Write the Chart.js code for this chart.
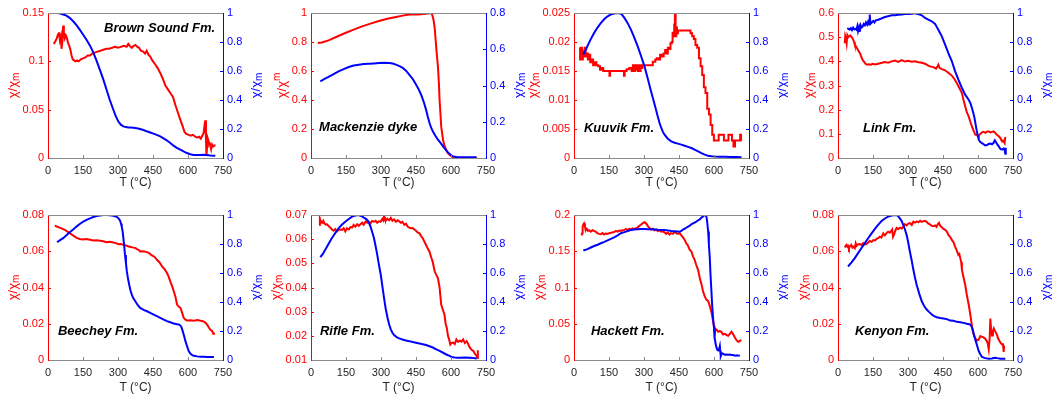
<!DOCTYPE html>
<html>
<head>
<meta charset="utf-8">
<title>Normalised susceptibility versus temperature</title>
<script src="https://cdn.jsdelivr.net/npm/chart.js@4.4.1/dist/chart.umd.min.js"></script>
<style>
  html, body { margin: 0; padding: 0; background: #fff; overflow: hidden; }
  #wrap { position: relative; width: 1052px; height: 396px; }
  #wrap canvas { position: absolute; }
</style>
</head>
<body>
<div id="wrap"></div>
<script>
// ---------- tick labels ----------
const tempTicks = [0, 150, 300, 450, 600, 750];
const unitTicks = [0, 0.2, 0.4, 0.6, 0.8, 1];
const mackRightTicks = [0, 0.2, 0.4, 0.6, 0.8];
const brownLeftTicks = [0, 0.05, 0.1, 0.15];
const mackLeftTicks = [0, 0.2, 0.4, 0.6, 0.8, 1];
const kuuLeftTicks = [0, 0.005, 0.01, 0.015, 0.02, 0.025];
const linkLeftTicks = [0, 0.1, 0.2, 0.3, 0.4, 0.5, 0.6];
const beecheyLeftTicks = [0, 0.02, 0.04, 0.06, 0.08];
const rifleLeftTicks = [0.01, 0.02, 0.03, 0.04, 0.05, 0.06, 0.07];
const hackettLeftTicks = [0, 0.05, 0.1, 0.15, 0.2];
const kenyonLeftTicks = [0, 0.02, 0.04, 0.06, 0.08];

// ---------- Brown Sound Fm. ----------
const brownRedT = [25,32,38,43,47,51,55,58,62,65,68,72,76,80,86,91,96,101,106,112,118,125,132,140,150,160,170,180,190,200,212,225,237,250,262,275,287,300,312,325,337,344,350,359,367,375,383,390,398,408,416,423,430,438,447,459,470,481,492,503,514,525,536,547,558,568,577,585,593,603,612,621,631,640,648,655,661,667,671,674,677,679,682,685,690,694,699,703,708,713,718];
const brownRed = [0.118,0.121,0.124,0.128,0.130,0.122,0.126,0.113,0.121,0.137,0.129,0.124,0.127,0.125,0.119,0.116,0.112,0.106,0.102,0.101,0.100,0.101,0.100,0.102,0.103,0.104,0.106,0.106,0.108,0.109,0.110,0.111,0.112,0.113,0.113,0.114,0.115,0.114,0.115,0.116,0.115,0.118,0.116,0.114,0.116,0.117,0.115,0.114,0.111,0.110,0.108,0.111,0.107,0.105,0.101,0.097,0.093,0.088,0.082,0.075,0.071,0.067,0.063,0.054,0.046,0.039,0.033,0.027,0.025,0.024,0.023,0.024,0.022,0.021,0.022,0.020,0.023,0.026,0.034,0.039,0.020,0.002,0.012,0.020,0.016,0.014,0.009,0.014,0.012,0.013,0.013];
const brownBlueT = [36,50,65,79,94,108,122,136,150,165,180,194,208,222,237,251,265,280,290,301,312,323,334,344,355,366,380,395,409,423,438,452,466,481,495,509,524,538,552,567,581,595,610,624,638,653,667,681,696,710,717];
const brownBlue = [1.0,0.998,0.99,0.982,0.965,0.943,0.916,0.885,0.852,0.816,0.775,0.729,0.672,0.609,0.542,0.471,0.4,0.333,0.29,0.253,0.23,0.218,0.213,0.211,0.21,0.209,0.205,0.2,0.193,0.184,0.176,0.168,0.159,0.149,0.136,0.122,0.104,0.085,0.07,0.057,0.045,0.034,0.026,0.021,0.02,0.021,0.022,0.021,0.018,0.016,0.015];

// ---------- Mackenzie dyke ----------
const mackRedT = [29,46,75,110,147,183,219,255,291,327,364,393,421,440,460,479,495,508,515,519,525,530,534,539,544,548,551,555,558,562,566,571,576,581,587,595,602,612,623,640,660,690,710];
const mackRed = [0.793,0.797,0.811,0.836,0.862,0.885,0.908,0.927,0.945,0.96,0.972,0.982,0.99,0.992,0.99,0.993,0.995,1.0,0.999,0.99,0.954,0.9,0.816,0.72,0.632,0.52,0.402,0.3,0.218,0.17,0.126,0.09,0.069,0.05,0.034,0.02,0.012,0.006,0.003,0.001,0,0,0];
const mackBlueT = [40,58,75,97,118,140,162,183,205,226,248,270,291,313,335,350,364,379,393,407,421,436,450,461,472,483,493,500,508,515,522,533,544,555,566,576,587,598,609,623,638,660,690,710];
const mackBlue = [0.423,0.436,0.447,0.463,0.478,0.49,0.502,0.51,0.515,0.518,0.52,0.522,0.524,0.525,0.524,0.521,0.515,0.507,0.497,0.482,0.46,0.436,0.405,0.38,0.349,0.31,0.267,0.23,0.193,0.167,0.147,0.123,0.101,0.083,0.064,0.047,0.031,0.018,0.009,0.005,0.004,0.004,0.004,0.004];

// ---------- Kuuvik Fm. ----------
const kuuRedT = [24,28,32,36,40,44,48,52,57,62,67,72,78,86,92,100,108,115,122,129,137,145,151,153,156,165,175,187,200,212,216,218,221,230,244,250,255,259,263,267,271,275,280,284,287,291,295,310,330,345,352,358,366,372,380,388,393,399,405,410,417,421,424,428,431,434,437,440,443,448,455,470,485,496,503,510,517,524,532,539,546,553,560,567,575,582,589,596,603,618,622,640,645,660,664,675,679,688,692,710,714,718];
const kuuRed = [0.019,0.017,0.019,0.017,0.0185,0.0175,0.019,0.0175,0.018,0.017,0.0178,0.0165,0.017,0.016,0.0165,0.016,0.0158,0.0152,0.0155,0.015,0.015,0.015,0.015,0.0142,0.015,0.015,0.015,0.015,0.015,0.015,0.0142,0.015,0.015,0.0153,0.0155,0.015,0.016,0.015,0.016,0.0152,0.016,0.015,0.016,0.015,0.016,0.0155,0.016,0.016,0.016,0.0166,0.017,0.0172,0.017,0.0178,0.0175,0.018,0.0186,0.018,0.019,0.0188,0.0198,0.02,0.0216,0.021,0.023,0.025,0.021,0.0225,0.0215,0.022,0.022,0.022,0.022,0.022,0.0215,0.021,0.0205,0.0195,0.019,0.0172,0.0158,0.0143,0.0122,0.0112,0.0085,0.0075,0.0057,0.004,0.003,0.003,0.004,0.004,0.003,0.003,0.004,0.004,0.003,0.002,0.003,0.003,0.004,0.003];
const kuuBlueT = [40,50,60,72,86,100,115,130,144,158,172,186,194,205,216,230,244,258,273,287,302,316,330,345,359,366,374,381,388,402,417,431,445,460,474,489,503,517,532,546,560,575,589,604,625,647,670,695,718];
const kuuBlue = [0.713,0.745,0.78,0.82,0.862,0.898,0.931,0.958,0.977,0.99,0.997,1.0,0.999,0.99,0.966,0.93,0.885,0.832,0.77,0.705,0.632,0.548,0.46,0.372,0.287,0.245,0.207,0.18,0.161,0.133,0.115,0.105,0.099,0.092,0.085,0.077,0.069,0.058,0.046,0.034,0.023,0.015,0.0115,0.01,0.009,0.008,0.007,0.007,0.006];

// ---------- Link Fm. ----------
const linkRedT = [29,31,34,37,40,44,48,52,57,61,65,69,72,78,84,90,95,100,106,112,118,125,132,140,150,160,172,185,201,215,230,244,258,273,287,301,315,330,345,359,373,387,398,409,420,426,430,436,445,459,474,488,498,509,520,531,538,545,552,560,567,574,581,588,595,603,610,617,624,632,639,646,653,660,667,674,681,689,696,703,708,714,717];
const linkRed = [0.475,0.505,0.495,0.475,0.508,0.5,0.505,0.507,0.502,0.497,0.49,0.48,0.469,0.46,0.45,0.44,0.432,0.418,0.405,0.398,0.39,0.386,0.388,0.386,0.39,0.387,0.39,0.393,0.397,0.394,0.4,0.403,0.398,0.405,0.399,0.402,0.398,0.4,0.396,0.394,0.39,0.382,0.378,0.376,0.37,0.378,0.386,0.372,0.368,0.363,0.352,0.341,0.328,0.31,0.29,0.269,0.24,0.214,0.19,0.172,0.15,0.131,0.113,0.097,0.094,0.092,0.1,0.106,0.108,0.104,0.11,0.11,0.106,0.108,0.11,0.104,0.096,0.09,0.082,0.069,0.072,0.062,0.087];
const linkBlueT = [40,45,50,55,60,65,70,75,79,83,86,90,93,97,101,105,110,115,120,125,129,133,136,139,143,147,151,156,162,172,186,201,215,230,244,258,273,287,301,316,323,330,337,344,359,373,387,402,416,430,445,459,473,488,502,516,531,545,560,567,574,580,585,590,595,600,603,610,617,624,631,639,646,653,660,667,672,677,682,689,696,703,710,714,717,719];
const linkBlue = [0.897,0.89,0.885,0.895,0.882,0.9,0.888,0.89,0.885,0.91,0.875,0.9,0.87,0.915,0.9,0.905,0.925,0.915,0.935,0.92,0.94,0.92,0.99,0.925,0.93,0.94,0.945,0.935,0.95,0.954,0.962,0.972,0.978,0.984,0.985,0.988,0.99,0.993,0.993,0.995,0.997,1.0,0.995,0.993,0.984,0.966,0.955,0.943,0.925,0.885,0.839,0.782,0.724,0.667,0.598,0.54,0.483,0.437,0.402,0.38,0.345,0.31,0.276,0.23,0.184,0.15,0.126,0.11,0.103,0.095,0.087,0.09,0.097,0.1,0.095,0.105,0.122,0.11,0.095,0.08,0.062,0.058,0.066,0.055,0.03,0.07];

// ---------- Beechey Fm. ----------
const beecheyRedT = [29,40,50,60,72,82,93,104,115,125,136,150,165,180,194,208,223,237,251,265,280,291,302,312,323,334,345,355,366,374,381,388,395,410,424,435,445,456,467,478,489,500,510,517,524,531,539,546,553,560,568,575,582,589,596,610,625,640,654,661,668,675,682,690,697,704,708,711];
const beecheyRed = [0.0741,0.0735,0.073,0.0725,0.0718,0.071,0.07,0.069,0.0681,0.0672,0.0668,0.0665,0.0667,0.0663,0.0659,0.066,0.0658,0.0655,0.065,0.0652,0.0648,0.0645,0.0639,0.064,0.0635,0.0632,0.0626,0.0624,0.062,0.0618,0.0612,0.0608,0.0599,0.06,0.0595,0.0588,0.0577,0.057,0.0553,0.0538,0.0516,0.05,0.048,0.046,0.0434,0.041,0.0379,0.035,0.0306,0.0295,0.0287,0.026,0.0232,0.0222,0.0218,0.0219,0.0217,0.022,0.0216,0.0215,0.0212,0.0205,0.0195,0.0178,0.0165,0.0159,0.0145,0.0152];
const beecheyBlueT = [39,50,65,79,93,108,122,136,151,165,180,194,208,223,237,251,266,280,295,303,309,313,316,320,323,327,330,334,338,343,348,354,359,366,374,385,395,410,424,438,453,467,481,496,510,524,539,553,560,566,571,575,580,585,589,596,603,610,618,625,639,654,668,682,697,711];
const beecheyBlue = [0.812,0.825,0.84,0.86,0.881,0.9,0.92,0.938,0.954,0.966,0.977,0.986,0.993,0.997,1.0,1.0,0.998,0.995,0.987,0.975,0.96,0.94,0.92,0.885,0.84,0.78,0.725,0.668,0.611,0.56,0.519,0.478,0.451,0.425,0.405,0.378,0.359,0.346,0.336,0.325,0.313,0.302,0.291,0.279,0.268,0.26,0.252,0.247,0.245,0.24,0.23,0.211,0.185,0.155,0.13,0.095,0.062,0.045,0.034,0.029,0.025,0.023,0.022,0.021,0.021,0.021];

// ---------- Rifle Fm. ----------
const rifleRedT = [35,38,42,46,50,53,58,63,68,75,82,90,97,104,111,118,125,133,140,147,154,162,169,176,183,190,198,205,212,219,226,234,241,248,255,262,270,277,284,291,298,306,310,313,317,320,327,335,342,349,356,364,371,378,385,392,400,407,414,421,429,436,443,450,457,465,472,479,486,493,501,508,515,522,525,530,537,544,551,558,566,572,577,582,587,592,597,602,609,616,623,630,638,645,652,659,667,674,681,688,695,701,707,711,713,715];
const rifleRed = [0.0659,0.0684,0.0668,0.0672,0.0668,0.0675,0.0665,0.066,0.0662,0.0655,0.0648,0.064,0.0635,0.0642,0.0632,0.0638,0.064,0.0638,0.0645,0.0632,0.0645,0.064,0.065,0.0648,0.0659,0.0652,0.0662,0.0655,0.0662,0.0668,0.066,0.0673,0.0668,0.0672,0.0665,0.0675,0.0672,0.0676,0.0668,0.0674,0.0672,0.0684,0.0678,0.0693,0.0682,0.0676,0.0685,0.0678,0.0688,0.0676,0.0682,0.0672,0.0678,0.0674,0.0668,0.0672,0.0659,0.0664,0.0652,0.0648,0.0645,0.0646,0.064,0.0635,0.0628,0.0624,0.0612,0.0604,0.059,0.0576,0.056,0.0548,0.0525,0.0505,0.049,0.0467,0.0452,0.0439,0.04,0.0329,0.0305,0.0288,0.025,0.0233,0.02,0.0185,0.0164,0.017,0.0172,0.0166,0.0185,0.0175,0.018,0.0176,0.0185,0.017,0.0178,0.0165,0.0151,0.0142,0.0138,0.0128,0.012,0.0116,0.0108,0.014];
const rifleBlueT = [40,50,61,75,89,104,118,133,147,162,176,190,198,205,212,219,226,234,241,248,255,262,270,277,284,291,299,306,313,320,328,335,342,349,356,367,378,392,407,421,436,450,465,479,493,508,522,537,551,566,580,594,602,616,630,638,660,681,696,710];
const rifleBlue = [0.709,0.73,0.76,0.8,0.84,0.876,0.908,0.934,0.954,0.972,0.989,0.997,1.0,0.998,0.995,0.99,0.982,0.975,0.966,0.948,0.92,0.885,0.84,0.785,0.725,0.658,0.588,0.508,0.428,0.355,0.291,0.245,0.211,0.188,0.172,0.158,0.149,0.141,0.135,0.13,0.124,0.119,0.114,0.109,0.103,0.095,0.086,0.073,0.063,0.05,0.038,0.028,0.021,0.018,0.016,0.016,0.017,0.016,0.013,0.011];

// ---------- Hackett Fm. ----------
const hackettRedT = [32,35,37,40,43,47,50,55,60,65,72,79,86,93,100,108,115,122,129,136,144,151,158,165,172,180,187,194,201,208,216,223,230,237,244,251,258,266,273,280,287,295,302,309,316,323,330,338,345,352,359,366,373,380,388,395,402,409,416,424,431,438,445,453,460,467,474,481,488,496,503,510,517,524,532,539,546,553,560,567,575,580,586,591,596,600,603,607,611,618,625,632,639,646,654,661,668,675,682,690,697,704,710,716];
const hackettRed = [0.1716,0.175,0.184,0.187,0.1885,0.184,0.179,0.181,0.178,0.179,0.177,0.179,0.178,0.177,0.175,0.174,0.1734,0.175,0.173,0.1745,0.174,0.175,0.1755,0.176,0.1765,0.178,0.177,0.1785,0.178,0.179,0.1795,0.1808,0.179,0.181,0.18,0.1815,0.1805,0.1817,0.183,0.185,0.1865,0.189,0.19,0.1885,0.185,0.182,0.18,0.181,0.179,0.18,0.178,0.179,0.177,0.1775,0.176,0.174,0.176,0.173,0.175,0.174,0.177,0.175,0.174,0.175,0.172,0.169,0.166,0.161,0.158,0.152,0.15,0.143,0.138,0.131,0.124,0.113,0.105,0.0947,0.088,0.0833,0.0815,0.0764,0.07,0.0627,0.0535,0.0467,0.0375,0.042,0.0421,0.039,0.04,0.0385,0.0352,0.036,0.0345,0.0335,0.036,0.039,0.0355,0.0307,0.027,0.0252,0.026,0.028];
const hackettBlueT = [40,58,72,86,101,115,130,144,158,172,187,201,216,230,244,258,273,287,302,316,330,345,359,374,388,402,417,431,445,453,460,467,474,481,489,496,503,510,517,524,531,539,546,553,560,564,568,571,575,578,582,585,589,592,596,600,603,607,611,614,618,621,625,627,629,632,636,639,646,654,661,668,675,682,690,697,704,711];
const hackettBlue = [0.755,0.765,0.776,0.786,0.795,0.805,0.815,0.825,0.835,0.846,0.86,0.874,0.882,0.89,0.897,0.9,0.902,0.904,0.903,0.902,0.902,0.9,0.898,0.897,0.896,0.894,0.89,0.888,0.886,0.884,0.89,0.9,0.905,0.912,0.92,0.926,0.936,0.942,0.948,0.954,0.962,0.97,0.982,0.99,1.0,0.998,0.985,0.95,0.886,0.8,0.703,0.59,0.474,0.38,0.291,0.22,0.153,0.11,0.085,0.07,0.066,0.07,0.096,0.06,0.027,0.04,0.045,0.043,0.036,0.038,0.036,0.037,0.034,0.034,0.03,0.033,0.03,0.032];

// ---------- Kenyon Fm. ----------
const kenyonRedT = [29,33,36,40,43,47,52,57,62,67,72,76,80,86,93,100,108,115,122,129,136,144,151,158,165,172,179,186,194,201,208,215,222,228,232,236,241,245,251,258,266,273,280,287,294,301,308,316,323,330,338,345,352,359,366,373,380,387,394,402,409,416,422,428,433,438,445,452,459,466,473,480,488,495,502,509,516,520,524,528,531,538,545,552,560,566,571,576,581,588,596,603,610,617,624,631,638,642,646,650,653,656,660,664,668,671,675,681,686,692,697,703,707,710,712];
const kenyonRed = [0.0621,0.063,0.0635,0.0625,0.063,0.0615,0.0628,0.0635,0.062,0.0625,0.0617,0.0644,0.063,0.0638,0.064,0.0635,0.0645,0.0638,0.064,0.0648,0.0657,0.0652,0.0662,0.066,0.0668,0.0672,0.068,0.0675,0.0699,0.0688,0.07,0.0708,0.0702,0.0712,0.072,0.068,0.0695,0.0712,0.0728,0.0722,0.073,0.0725,0.0735,0.0749,0.0742,0.0752,0.0755,0.0745,0.0763,0.0758,0.0765,0.076,0.0768,0.0762,0.0766,0.0768,0.0762,0.0752,0.0748,0.074,0.0738,0.0742,0.0735,0.075,0.0757,0.074,0.0732,0.0723,0.0718,0.071,0.069,0.068,0.0663,0.065,0.0626,0.0605,0.058,0.0585,0.0562,0.054,0.0498,0.0455,0.0416,0.036,0.0306,0.026,0.0214,0.017,0.0141,0.012,0.0108,0.0112,0.0132,0.0128,0.0125,0.0118,0.0104,0.009,0.0059,0.012,0.0229,0.017,0.0135,0.016,0.0174,0.0165,0.0155,0.014,0.012,0.0105,0.0095,0.0086,0.0092,0.0044,0.008];
const kenyonBlueT = [43,58,72,86,100,115,129,144,158,172,187,201,215,230,244,255,265,273,280,287,294,301,308,316,323,330,337,348,359,370,380,391,402,412,423,438,452,466,481,495,509,524,538,552,566,571,576,582,588,596,603,610,617,631,646,660,667,674,682,696,710,717];
const kenyonBlue = [0.645,0.673,0.703,0.737,0.771,0.806,0.84,0.873,0.904,0.932,0.959,0.976,0.989,0.997,1.0,0.997,0.977,0.958,0.931,0.9,0.863,0.81,0.748,0.685,0.622,0.568,0.519,0.458,0.405,0.37,0.348,0.33,0.314,0.303,0.295,0.29,0.286,0.282,0.272,0.27,0.263,0.26,0.256,0.25,0.245,0.235,0.217,0.18,0.142,0.1,0.062,0.04,0.021,0.013,0.009,0.01,0.014,0.016,0.013,0.009,0.009,0.009];

// ---------- styling ----------
const FONT = '"Liberation Sans", Arial, Helvetica, sans-serif';
const RED = '#ff0000';
const BLUE = '#0000ff';
const FRAME = '#8a8a8a';
const INK = '#262626';

const PANEL_W = 262, PANEL_H = 198;
const LEFT_AXIS_W = 48, RIGHT_AXIS_W = 39;
const colLeft = [0, 263, 526, 790];

const panels = [
  { name: 'Brown Sound Fm.', col: 0, row: 0, redT: brownRedT, red: brownRed, blueT: brownBlueT, blue: brownBlue, leftTicks: brownLeftTicks, rightTicks: unitTicks, lx: 0.32, ly: 0.105, sup: false, redStep: false },
  { name: 'Mackenzie dyke', col: 1, row: 0, redT: mackRedT, red: mackRed, blueT: mackBlueT, blue: mackBlue, leftTicks: mackLeftTicks, rightTicks: mackRightTicks, lx: 0.046, ly: 0.79, sup: true, redStep: false },
  { name: 'Kuuvik Fm.', col: 2, row: 0, redT: kuuRedT, red: kuuRed, blueT: kuuBlueT, blue: kuuBlue, leftTicks: kuuLeftTicks, rightTicks: unitTicks, lx: 0.057, ly: 0.795, sup: false, redStep: true },
  { name: 'Link Fm.', col: 3, row: 0, redT: linkRedT, red: linkRed, blueT: linkBlueT, blue: linkBlue, leftTicks: linkLeftTicks, rightTicks: unitTicks, lx: 0.143, ly: 0.795, sup: false, redStep: false },
  { name: 'Beechey Fm.', col: 0, row: 1, redT: beecheyRedT, red: beecheyRed, blueT: beecheyBlueT, blue: beecheyBlue, leftTicks: beecheyLeftTicks, rightTicks: unitTicks, lx: 0.057, ly: 0.80, sup: false, redStep: false },
  { name: 'Rifle Fm.', col: 1, row: 1, redT: rifleRedT, red: rifleRed, blueT: rifleBlueT, blue: rifleBlue, leftTicks: rifleLeftTicks, rightTicks: unitTicks, lx: 0.051, ly: 0.80, sup: false, redStep: false },
  { name: 'Hackett Fm.', col: 2, row: 1, redT: hackettRedT, red: hackettRed, blueT: hackettBlueT, blue: hackettBlue, leftTicks: hackettLeftTicks, rightTicks: unitTicks, lx: 0.097, ly: 0.80, sup: false, redStep: false },
  { name: 'Kenyon Fm.', col: 3, row: 1, redT: kenyonRedT, red: kenyonRed, blueT: kenyonBlueT, blue: kenyonBlue, leftTicks: kenyonLeftTicks, rightTicks: unitTicks, lx: 0.097, ly: 0.80, sup: false, redStep: false }
];

function toPoints(t, v) { return t.map((x, i) => ({ x: x, y: v[i] })); }
function fmt(v) { return String(+Number(v).toFixed(6)); }

// rotated "χ/χm" axis label, with m as subscript (or superscript)
function chiLabel(ctx, x, y, color, sup) {
  ctx.save();
  ctx.translate(x, y);
  ctx.rotate(-Math.PI / 2);
  ctx.fillStyle = color;
  ctx.textBaseline = 'middle';
  ctx.textAlign = 'left';
  ctx.font = '13px ' + FONT;
  const w1 = ctx.measureText('χ/χ').width;
  ctx.font = '10px ' + FONT;
  const w2 = ctx.measureText('m').width;
  const x0 = -(w1 + w2) / 2;
  ctx.font = '13px ' + FONT;
  ctx.fillText('χ/χ', x0, 0);
  ctx.font = '10px ' + FONT;
  ctx.fillText('m', x0 + w1, sup ? -5 : 3);
  ctx.restore();
}

// frame, inward tick marks, axis labels and panel name
const panelDeco = {
  id: 'panelDeco',
  afterDraw(chart, args, o) {
    const { ctx, chartArea: a, scales } = chart;
    const TL = 3;
    ctx.save();
    ctx.lineWidth = 1;

    ctx.strokeStyle = FRAME;
    ctx.beginPath();
    const ty = Math.round(a.top) + 0.5;
    ctx.moveTo(a.left, ty); ctx.lineTo(a.right, ty);
    scales.x.ticks.forEach(t => {
      const px = Math.round(scales.x.getPixelForValue(t.value)) + 0.5;
      if (px <= a.left + 1 || px >= a.right - 1) return;
      ctx.moveTo(px, a.bottom); ctx.lineTo(px, a.bottom - TL);
    });
    ctx.stroke();

    ctx.strokeStyle = RED;
    ctx.beginPath();
    scales.yL.ticks.forEach(t => {
      const py = Math.round(scales.yL.getPixelForValue(t.value)) + 0.5;
      if (py <= a.top + 1 || py >= a.bottom - 1) return;
      ctx.moveTo(a.left, py); ctx.lineTo(a.left + TL, py);
    });
    ctx.stroke();

    ctx.strokeStyle = BLUE;
    ctx.beginPath();
    scales.yR.ticks.forEach(t => {
      const py = Math.round(scales.yR.getPixelForValue(t.value)) + 0.5;
      if (py <= a.top + 1 || py >= a.bottom - 1) return;
      ctx.moveTo(a.right, py); ctx.lineTo(a.right - TL, py);
    });
    ctx.stroke();

    // axis labels placed just outside the tick labels
    ctx.font = '11px ' + FONT;
    let wl = 0, wr = 0;
    scales.yL.ticks.forEach(t => { wl = Math.max(wl, ctx.measureText(String(t.label)).width); });
    scales.yR.ticks.forEach(t => { wr = Math.max(wr, ctx.measureText(String(t.label)).width); });
    const midY = (a.top + a.bottom) / 2;
    chiLabel(ctx, a.left - 4 - wl - 9, midY, RED, o.sup);
    chiLabel(ctx, a.right + 4 + wr + 14, midY, BLUE, false);

    // panel name
    ctx.font = 'italic bold 13px ' + FONT;
    ctx.fillStyle = '#000';
    ctx.textAlign = 'left';
    ctx.textBaseline = 'middle';
    ctx.fillText(o.name, a.left + o.lx * (a.right - a.left), a.top + o.ly * (a.bottom - a.top));
    ctx.restore();
  }
};

const wrap = document.getElementById('wrap');

panels.forEach(p => {
  const cv = document.createElement('canvas');
  cv.width = PANEL_W;
  cv.height = PANEL_H;
  cv.style.width = PANEL_W + 'px';
  cv.style.height = PANEL_H + 'px';
  cv.style.left = colLeft[p.col] + 'px';
  cv.style.top = (p.row * PANEL_H) + 'px';
  wrap.appendChild(cv);

  const padTop = p.row === 0 ? 13 : 17;
  const xAxisH = p.row === 0 ? 40 : 36;
  const titleBottom = p.row === 0 ? 8 : 1;
  const lt = p.leftTicks, rt = p.rightTicks;

  new Chart(cv, {
    type: 'line',
    data: {
      datasets: [
        { data: toPoints(p.blueT, p.blue), yAxisID: 'yR', borderColor: BLUE, borderWidth: 2, pointRadius: 0, fill: false, tension: 0 },
        { data: toPoints(p.redT, p.red), yAxisID: 'yL', borderColor: RED, borderWidth: 2, pointRadius: 0, fill: false, tension: 0, stepped: p.redStep ? 'middle' : false }
      ]
    },
    options: {
      responsive: false,
      animation: false,
      devicePixelRatio: 1,
      events: [],
      parsing: false,
      layout: { padding: { top: padTop, left: 0, right: 0, bottom: 0 } },
      plugins: {
        legend: { display: false },
        tooltip: { enabled: false },
        panelDeco: { name: p.name, lx: p.lx, ly: p.ly, sup: p.sup }
      },
      scales: {
        x: {
          type: 'linear', position: 'bottom',
          min: tempTicks[0], max: tempTicks[tempTicks.length - 1],
          afterBuildTicks: s => { s.ticks = tempTicks.map(v => ({ value: v })); },
          afterFit: s => { s.height = xAxisH; },
          grid: { display: false, drawTicks: false },
          border: { display: true, color: FRAME, width: 1 },
          ticks: { color: INK, font: { family: FONT, size: 11 }, padding: 6, maxRotation: 0, autoSkip: false, callback: v => fmt(v) },
          title: { display: true, text: 'T (°C)', color: INK, font: { family: FONT, size: 12 }, padding: { top: 0, bottom: titleBottom } }
        },
        yL: {
          type: 'linear', position: 'left',
          min: lt[0], max: lt[lt.length - 1],
          afterBuildTicks: s => { s.ticks = lt.map(v => ({ value: v })); },
          afterFit: s => { s.width = LEFT_AXIS_W; },
          grid: { display: false, drawTicks: false },
          border: { display: true, color: RED, width: 1 },
          ticks: { color: RED, font: { family: FONT, size: 11 }, padding: 4, autoSkip: false, callback: v => fmt(v) }
        },
        yR: {
          type: 'linear', position: 'right',
          min: rt[0], max: rt[rt.length - 1],
          afterBuildTicks: s => { s.ticks = rt.map(v => ({ value: v })); },
          afterFit: s => { s.width = RIGHT_AXIS_W; },
          grid: { display: false, drawTicks: false },
          border: { display: true, color: BLUE, width: 1 },
          ticks: { color: BLUE, font: { family: FONT, size: 11 }, padding: 4, autoSkip: false, callback: v => fmt(v) }
        }
      }
    },
    plugins: [panelDeco]
  });
});
</script>
</body>
</html>
